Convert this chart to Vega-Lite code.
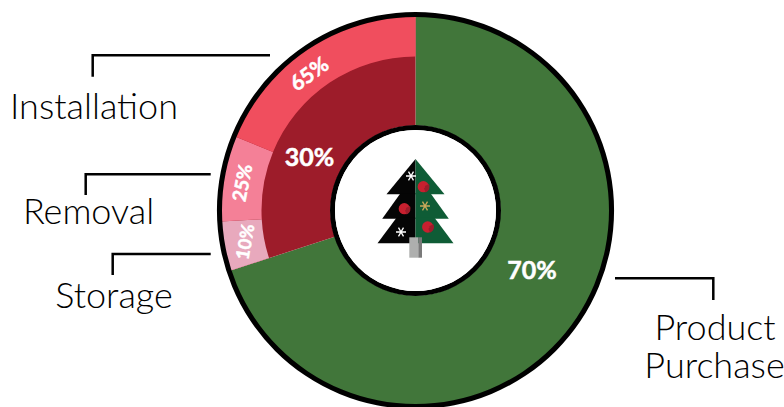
{
 "$schema":"https://vega.github.io/schema/vega-lite/v6.json",
 "width":784,"height":407,
 "autosize":{"type":"none"},
 "padding":0,
 "background":"white",
 "config":{"view":{"stroke":null},"legend":{"disable":true},"axis":{"disable":true}},
 "datasets":{
  "whole":[{"part":"Product Purchase","start":0,"end":70},{"part":"Services","start":70,"end":100}],
  "services":[{"part":"Storage","start":70,"end":74.1},{"part":"Removal","start":74.1,"end":81.2},{"part":"Installation","start":81.2,"end":100}],
  "full":[{"part":"Outline","start":0,"end":100}],
  "pct":[
   {"label":"70%","x":116.5,"y":-60.5,"rot":0,"sz":25},
   {"label":"30%","x":-106,"y":52.5,"rot":0,"sz":25},
   {"label":"65%","x":-105.5,"y":135.5,"rot":-36,"sz":21},
   {"label":"25%","x":-172.5,"y":27.5,"rot":-79,"sz":19},
   {"label":"10%","x":-169,"y":-31.5,"rot":-80,"sz":18}],
  "names":[
   {"label":"Installation","x":-321.5,"y":91.2},
   {"label":"Removal","x":-327,"y":-13.5},
   {"label":"Storage","x":-301.5,"y":-97.2},
   {"label":"Product","x":299.5,"y":-129.5},
   {"label":"Purchase","x":299,"y":-167.2}],
  "leaders":[
   {"id":"Installation","o":1,"x":-322.8,"y":133.8},{"id":"Installation","o":2,"x":-322.8,"y":155.2},{"id":"Installation","o":3,"x":-145.5,"y":155.2},
   {"id":"Removal","o":1,"x":-329.8,"y":15.5},{"id":"Removal","o":2,"x":-329.8,"y":36.2},{"id":"Removal","o":3,"x":-204.8,"y":36.2},
   {"id":"Storage","o":1,"x":-302.8,"y":-64.5},{"id":"Storage","o":2,"x":-302.8,"y":-43.5},{"id":"Storage","o":3,"x":-204.8,"y":-43.5},
   {"id":"Product","o":1,"x":199.5,"y":-67.8},{"id":"Product","o":2,"x":297.8,"y":-67.8},{"id":"Product","o":3,"x":297.8,"y":-89.5}],
  "tree":[
   {"part":"Tree left","tier":"L1","y":51.5,"edge":0},{"part":"Tree left","tier":"L1","y":16.2,"edge":-29},
   {"part":"Tree left","tier":"L2","y":17.2,"edge":-15},{"part":"Tree left","tier":"L2","y":-8.2,"edge":-33.3},
   {"part":"Tree left","tier":"L3","y":-7.2,"edge":-19},{"part":"Tree left","tier":"L3","y":-32.8,"edge":-38},
   {"part":"Tree right","tier":"R1","y":51.5,"edge":0},{"part":"Tree right","tier":"R1","y":16.2,"edge":29},
   {"part":"Tree right","tier":"R2","y":17.2,"edge":15},{"part":"Tree right","tier":"R2","y":-8.2,"edge":33.3},
   {"part":"Tree right","tier":"R3","y":-7.2,"edge":19},{"part":"Tree right","tier":"R3","y":-32.8,"edge":38}],
  "trunk":[{"part":"Trunk light","x":-6.2,"x2":2.8,"y":-26.8,"y2":-47.2},{"part":"Trunk dark","x":2.8,"x2":6.5,"y":-26.8,"y2":-47.2}],
  "balls":[{"x":7.8,"y":23.8,"start":18,"end":44},{"x":-11.2,"y":1.8,"start":18,"end":44},{"x":12.2,"y":-16.5,"start":18,"end":44}],
  "flakes":[{"part":"Flake white","x":-4.5,"y":34.5},{"part":"Flake white","x":-14.5,"y":-21.5},{"part":"Flake gold","x":9.5,"y":4.5}]
 },
 "encoding":{
  "color":{"field":"part","type":"nominal","legend":null,"scale":{
    "domain":["Product Purchase","Services","Storage","Removal","Installation","Outline","Centre","Tree left","Tree right","Trunk light","Trunk dark","Flake white","Flake gold"],
    "range":["#41763A","#9D1C2A","#E8A9BD","#F48097","#F04E5E","#000000","#FFFFFF","#050505","#0F5C36","#AEAFAE","#7A7A7A","#FFFFFF","#C9A95A"]}}
 },
 "layer":[
  {"data":{"name":"whole"},"mark":{"type":"arc","radius":195,"radius2":85},
   "encoding":{"x":{"datum":0,"type":"quantitative","axis":null,"scale":{"domain":[-415.5,368.5],"nice":false,"zero":false}},
    "y":{"datum":0,"type":"quantitative","axis":null,"scale":{"domain":[-196.5,210.5],"nice":false,"zero":false}},
    "theta":{"field":"start","type":"quantitative","stack":null,"scale":{"domain":[0,100],"range":[0,6.28319]}},"theta2":{"field":"end"}}},
  {"data":{"name":"services"},"mark":{"type":"arc","radius":195,"radius2":154},
   "encoding":{"x":{"datum":0,"type":"quantitative"},"y":{"datum":0,"type":"quantitative"},
    "theta":{"field":"start","type":"quantitative","stack":null},"theta2":{"field":"end"}}},
  {"data":{"name":"full"},"mark":{"type":"arc","radius":198.5,"radius2":193.5},
   "encoding":{"x":{"datum":0,"type":"quantitative"},"y":{"datum":0,"type":"quantitative"},
    "theta":{"field":"start","type":"quantitative","stack":null},"theta2":{"field":"end"}}},
  {"data":{"name":"full"},"mark":{"type":"arc","radius":85.5,"radius2":80.5},
   "encoding":{"x":{"datum":0,"type":"quantitative"},"y":{"datum":0,"type":"quantitative"},
    "theta":{"field":"start","type":"quantitative","stack":null},"theta2":{"field":"end"}}},
  {"data":{"name":"full"},"mark":{"type":"arc","radius":80.5,"radius2":0},
   "encoding":{"x":{"datum":0,"type":"quantitative"},"y":{"datum":0,"type":"quantitative"},
    "theta":{"field":"start","type":"quantitative","stack":null},"theta2":{"field":"end"},"color":{"value":"#FFFFFF"}}},
  {"data":{"name":"tree"},"mark":{"type":"area","orient":"horizontal"},
   "encoding":{"y":{"field":"y","type":"quantitative"},"x":{"field":"edge","type":"quantitative","stack":null},"x2":{"datum":0},"detail":{"field":"tier"}}},
  {"data":{"name":"trunk"},"mark":{"type":"rect"},
   "encoding":{"x":{"field":"x","type":"quantitative"},"x2":{"field":"x2"},"y":{"field":"y","type":"quantitative"},"y2":{"field":"y2"}}},
  {"data":{"name":"balls"},"mark":{"type":"point","filled":true,"opacity":1,"shape":"circle","size":127},
   "encoding":{"x":{"field":"x","type":"quantitative"},"y":{"field":"y","type":"quantitative"},"color":{"value":"#C8202F"}}},
  {"data":{"name":"balls"},"mark":{"type":"arc","radius":6.3,"radius2":1.8},
   "encoding":{"x":{"field":"x","type":"quantitative"},"y":{"field":"y","type":"quantitative"},"theta":{"field":"start","type":"quantitative","stack":null},"theta2":{"field":"end"},"color":{"value":"#9D1C2A"}}},
  {"data":{"name":"flakes"},"mark":{"type":"point","filled":false,"opacity":1,"strokeWidth":1.3,"size":100,"shape":"M-1,0L1,0M-0.5,-0.87L0.5,0.87M-0.5,0.87L0.5,-0.87"},
   "encoding":{"x":{"field":"x","type":"quantitative"},"y":{"field":"y","type":"quantitative"}}},
  {"data":{"name":"leaders"},"mark":{"type":"line","strokeWidth":2.5,"strokeCap":"butt","strokeJoin":"miter"},
   "encoding":{"x":{"field":"x","type":"quantitative"},"y":{"field":"y","type":"quantitative"},"order":{"field":"o"},"detail":{"field":"id"},"color":{"value":"#000000"}}},
  {"data":{"name":"pct"},"mark":{"type":"text","font":"Lato","fontWeight":700,"align":"center","baseline":"middle","stroke":"#FFFFFF","strokeWidth":0.5},
   "encoding":{"x":{"field":"x","type":"quantitative"},"y":{"field":"y","type":"quantitative"},"text":{"field":"label"},"angle":{"field":"rot","type":"quantitative","scale":null},"size":{"field":"sz","type":"quantitative","scale":null},"color":{"value":"#FFFFFF"}}},
  {"data":{"name":"names"},"mark":{"type":"text","font":"Lato","fontWeight":300,"fontSize":36,"align":"center","baseline":"alphabetic"},
   "encoding":{"x":{"field":"x","type":"quantitative"},"y":{"field":"y","type":"quantitative"},"text":{"field":"label"},"color":{"value":"#000000"}}}
 ]
}
